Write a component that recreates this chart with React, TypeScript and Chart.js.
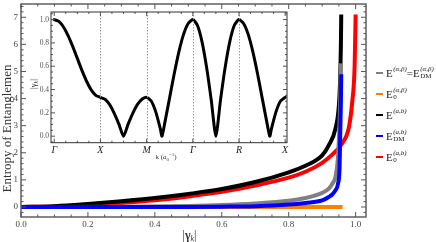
import React, { useEffect, useRef } from "react";
import { Chart, registerables } from "chart.js";

Chart.register(...registerables);

const SERIF = "'Liberation Serif', 'DejaVu Serif', serif";

// ---------- main chart data: entropy vs |gamma_k| ----------
const grayX = [0, 0.3, 0.5, 0.6, 0.7, 0.8, 0.85, 0.88, 0.9, 0.92, 0.93, 0.94, 0.947, 0.951, 0.954, 0.956];
const grayY = [0, 0.01, 0.04, 0.07, 0.13, 0.23, 0.33, 0.43, 0.52, 0.68, 0.85, 1.12, 1.8, 2.8, 4.0, 5.3];

const orangeX = [0, 0.961];
const orangeY = [0, 0];

const blackX = [0, 0.1, 0.2, 0.3, 0.4, 0.5, 0.6, 0.7, 0.8, 0.85, 0.9, 0.92, 0.94, 0.95, 0.954, 0.956, 0.957];
const blackY = [0, 0.03, 0.11, 0.21, 0.33, 0.48, 0.66, 0.92, 1.28, 1.52, 1.9, 2.28, 2.9, 3.75, 4.8, 6.0, 7.1];

const blueX = [0, 0.5, 0.6, 0.7, 0.8, 0.85, 0.9, 0.92, 0.93, 0.94, 0.947, 0.952, 0.954, 0.956, 0.957];
const blueY = [0, 0.0, 0.01, 0.03, 0.09, 0.15, 0.24, 0.37, 0.46, 0.62, 0.84, 1.46, 2.7, 3.9, 4.9];

const redX = [0, 0.1, 0.2, 0.3, 0.4, 0.5, 0.6, 0.7, 0.8, 0.85, 0.9, 0.93, 0.96, 0.98, 0.99, 0.997, 1.0];
const redY = [0, 0.02, 0.07, 0.15, 0.25, 0.39, 0.56, 0.79, 1.08, 1.3, 1.63, 1.93, 2.35, 2.95, 3.9, 5.2, 7.1];

const GRAY = "#808080";
const ORANGE = "#FF8000";
const BLACK = "#000000";
const BLUE = "#0000FF";
const RED = "#FF0000";

// ---------- inset data: |gamma_k| along the path ----------
const pathTicks = [0, 1, 2, 3, 4, 5];
const pathLabels = ["Γ", "X", "M", "Γ", "R", "X"];
const insetK = [
  0, 0.1, 0.2, 0.3, 0.4, 0.5, 0.6, 0.7, 0.8, 0.9, 1,
  1.1, 1.2, 1.3, 1.4, 1.5, 1.6, 1.7, 1.8, 1.9, 2,
  2.1, 2.2, 2.3, 2.333, 2.4, 2.5, 2.6, 2.7, 2.8, 2.9, 3,
  3.1, 3.2, 3.3, 3.4, 3.5, 3.6, 3.7, 3.8, 3.9, 4,
  4.1, 4.2, 4.3, 4.4, 4.5, 4.6, 4.667, 4.7, 4.8, 4.9, 5,
];
const insetGamma = [
  1.0, 0.984, 0.936, 0.863, 0.77, 0.667, 0.564, 0.471, 0.397, 0.35, 0.333,
  0.317, 0.27, 0.196, 0.103, 0.0, 0.103, 0.196, 0.27, 0.317, 0.333,
  0.301, 0.206, 0.059, 0.0, 0.127, 0.333, 0.539, 0.725, 0.873, 0.967, 1.0,
  0.951, 0.809, 0.588, 0.309, 0.0, 0.309, 0.588, 0.809, 0.951, 1.0,
  0.967, 0.873, 0.725, 0.539, 0.333, 0.127, 0.0, 0.059, 0.206, 0.301, 0.333,
];

const toPts = (xs: number[], ys: number[]) => xs.map((x, i) => ({ x, y: ys[i] }));

type Part = { t: string; size: number; style?: string; weight?: string; dy?: number };

function drawRich(ctx: CanvasRenderingContext2D, parts: Part[], cx: number, cy: number, rot: number, color: string) {
  ctx.save();
  ctx.translate(cx, cy);
  ctx.rotate(rot);
  ctx.fillStyle = color;
  ctx.textBaseline = "middle";
  ctx.textAlign = "left";
  const fontOf = (p: Part) => `${p.style || "normal"} ${p.weight || "normal"} ${p.size}px ${SERIF}`;
  let w = 0;
  for (const p of parts) {
    ctx.font = fontOf(p);
    w += ctx.measureText(p.t).width;
  }
  let x = -w / 2;
  for (const p of parts) {
    ctx.font = fontOf(p);
    ctx.fillText(p.t, x, p.dy || 0);
    x += ctx.measureText(p.t).width;
  }
  ctx.restore();
}

function framePlugin(cfg: {
  color: string;
  width: number;
  tickColor: string;
  xMajor: number;
  xMinor: number;
  yMajor: number;
  yMinor: number;
  majorLen: number;
  minorLen: number;
  gridX?: number[];
  titles?: (ctx: CanvasRenderingContext2D) => void;
}) {
  return {
    id: "frameTicks",
    afterDatasetsDraw(chart: any) {
      const { ctx, chartArea: a, scales } = chart;
      const xs = scales.x;
      const ys = scales.y;
      ctx.save();
      if (cfg.gridX) {
        ctx.strokeStyle = "#9a9a9a";
        ctx.lineWidth = 1;
        ctx.setLineDash([1.5, 1.5]);
        for (const v of cfg.gridX) {
          const p = Math.round(xs.getPixelForValue(v)) + 0.5;
          ctx.beginPath();
          ctx.moveTo(p, a.top);
          ctx.lineTo(p, a.bottom);
          ctx.stroke();
        }
        ctx.setLineDash([]);
      }
      ctx.strokeStyle = cfg.tickColor;
      ctx.lineWidth = 1;
      const isMajor = (v: number, step: number) => Math.abs(v / step - Math.round(v / step)) < 1e-6;
      const i0 = Math.ceil(xs.min / cfg.xMinor - 1e-9);
      const i1 = Math.floor(xs.max / cfg.xMinor + 1e-9);
      for (let i = i0; i <= i1; i++) {
        const v = i * cfg.xMinor;
        const len = isMajor(v, cfg.xMajor) ? cfg.majorLen : cfg.minorLen;
        const p = xs.getPixelForValue(v);
        ctx.beginPath();
        ctx.moveTo(p, a.bottom);
        ctx.lineTo(p, a.bottom - len);
        ctx.moveTo(p, a.top);
        ctx.lineTo(p, a.top + len);
        ctx.stroke();
      }
      const j0 = Math.ceil(ys.min / cfg.yMinor - 1e-9);
      const j1 = Math.floor(ys.max / cfg.yMinor + 1e-9);
      for (let j = j0; j <= j1; j++) {
        const v = j * cfg.yMinor;
        const len = isMajor(v, cfg.yMajor) ? cfg.majorLen : cfg.minorLen;
        const p = ys.getPixelForValue(v);
        ctx.beginPath();
        ctx.moveTo(a.left, p);
        ctx.lineTo(a.left + len, p);
        ctx.moveTo(a.right, p);
        ctx.lineTo(a.right - len, p);
        ctx.stroke();
      }
      ctx.strokeStyle = cfg.color;
      ctx.lineWidth = cfg.width;
      ctx.strokeRect(a.left, a.top, a.right - a.left, a.bottom - a.top);
      if (cfg.titles) cfg.titles(ctx);
      ctx.restore();
    },
  };
}

function Ex({ sup, sub }: { sup: string; sub?: string }) {
  return (
    <span style={{ display: "inline-flex", alignItems: "center" }}>
      <span style={{ fontSize: 11 }}>E</span>
      <span
        style={{
          display: "inline-flex",
          flexDirection: "column",
          fontSize: 7,
          lineHeight: "7px",
          marginLeft: 0.5,
        }}
      >
        <span style={{ fontStyle: "italic" }}>{sup}</span>
        <span>{sub ?? "\u00a0"}</span>
      </span>
    </span>
  );
}

const legendRows: { color: string; label: React.ReactNode }[] = [
  {
    color: GRAY,
    label: (
      <>
        <Ex sup="(α,β)" />
        <span style={{ fontSize: 11 }}>=</span>
        <Ex sup="(α,β)" sub="DM" />
      </>
    ),
  },
  { color: ORANGE, label: <Ex sup="(α,β)" sub="0" /> },
  { color: BLACK, label: <Ex sup="(a,b)" /> },
  { color: BLUE, label: <Ex sup="(a,b)" sub="DM" /> },
  { color: RED, label: <Ex sup="(a,b)" sub="0" /> },
];

export default function App() {
  const mainRef = useRef<HTMLCanvasElement>(null);
  const insetRef = useRef<HTMLCanvasElement>(null);

  useEffect(() => {
    const line = (label: string, xs: number[], ys: number[], color: string, order: number) => ({
      label,
      data: toPts(xs, ys),
      borderColor: color,
      backgroundColor: color,
      borderWidth: 4,
      pointRadius: 0,
      fill: false,
      cubicInterpolationMode: "monotone" as const,
      order,
    });

    const main = new Chart(mainRef.current!, {
      type: "line",
      data: {
        datasets: [
          line("E(α,β)=E_DM(α,β)", grayX, grayY, GRAY, 2),
          line("E_0(α,β)", orangeX, orangeY, ORANGE, 5),
          line("E(a,b)", blackX, blackY, BLACK, 3),
          line("E_DM(a,b)", blueX, blueY, BLUE, 1),
          line("E_0(a,b)", redX, redY, RED, 4),
        ],
      },
      options: {
        responsive: false,
        animation: false,
        devicePixelRatio: 1,
        layout: { padding: { left: 0, top: 4, right: 70, bottom: 0 } },
        plugins: { legend: { display: false }, tooltip: { enabled: false } },
        scales: {
          x: {
            type: "linear",
            min: 0,
            max: 1.031,
            grid: { display: false, drawTicks: false },
            border: { display: false },
            ticks: {
              stepSize: 0.2,
              includeBounds: false,
              padding: 2,
              color: "#444",
              font: { family: SERIF, size: 9 },
              maxRotation: 0,
              callback: (v: any) => Number(v).toFixed(1),
            },
            afterFit: (s: any) => {
              s.height = 25;
              s.paddingLeft = 0;
              s.paddingRight = 0;
            },
          },
          y: {
            type: "linear",
            min: -0.37,
            max: 7.49,
            grid: { display: false, drawTicks: false },
            border: { display: false },
            ticks: {
              stepSize: 1,
              includeBounds: false,
              padding: 3,
              color: "#444",
              font: { family: SERIF, size: 9 },
              callback: (v: any) => String(Math.round(Number(v))),
            },
            afterFit: (s: any) => {
              s.width = 21;
              s.paddingTop = 0;
              s.paddingBottom = 0;
            },
          },
        },
      },
      plugins: [
        framePlugin({
          color: "#555",
          width: 1.4,
          tickColor: "#555",
          xMajor: 0.2,
          xMinor: 0.05,
          yMajor: 1,
          yMinor: 0.2,
          majorLen: 5,
          minorLen: 2.5,
          titles: (ctx) => {
            drawRich(ctx, [{ t: "Entropy of Entanglemen", size: 13 }], 7.5, 128.5, -Math.PI / 2, "#333");
            drawRich(
              ctx,
              [
                { t: "|", size: 12 },
                { t: "γ", size: 12, weight: "bold" },
                { t: "k", size: 8, style: "italic", dy: 3 },
                { t: "|", size: 12 },
              ],
              189.5,
              236,
              0,
              "#333"
            );
          },
        }),
      ],
    } as any);

    const inset = new Chart(insetRef.current!, {
      type: "line",
      data: {
        datasets: [
          {
            label: "|γk|",
            data: toPts(insetK, insetGamma),
            borderColor: BLACK,
            borderWidth: 3,
            pointRadius: 0,
            fill: false,
            tension: 0.2,
            borderJoinStyle: "round",
            borderCapStyle: "round",
          },
        ],
      },
      options: {
        responsive: false,
        animation: false,
        devicePixelRatio: 1,
        layout: { padding: { left: 0, top: 6, right: 5, bottom: 0 } },
        plugins: { legend: { display: false }, tooltip: { enabled: false } },
        scales: {
          x: {
            type: "linear",
            min: -0.07,
            max: 5.04,
            grid: { display: false, drawTicks: false },
            border: { display: false },
            afterBuildTicks: (s: any) => {
              s.ticks = pathTicks.map((v) => ({ value: v }));
            },
            ticks: {
              padding: 2,
              color: "#222",
              autoSkip: false,
              maxRotation: 0,
              font: { family: SERIF, size: 10, style: "italic" },
              callback: (v: any, i: number) => pathLabels[i],
            },
            afterFit: (s: any) => {
              s.height = 23.3;
              s.paddingLeft = 0;
              s.paddingRight = 0;
            },
          },
          y: {
            type: "linear",
            min: -0.056,
            max: 1.065,
            grid: { display: false, drawTicks: false },
            border: { display: false },
            ticks: {
              stepSize: 0.2,
              includeBounds: false,
              padding: 2,
              color: "#555",
              font: { family: SERIF, size: 7.5 },
              callback: (v: any) => Number(v).toFixed(1),
            },
            afterFit: (s: any) => {
              s.width = 25;
              s.paddingTop = 0;
              s.paddingBottom = 0;
            },
          },
        },
      },
      plugins: [
        framePlugin({
          color: "#333",
          width: 1,
          tickColor: "#555",
          xMajor: 1,
          xMinor: 0.25,
          yMajor: 0.2,
          yMinor: 0.05,
          majorLen: 4,
          minorLen: 2,
          gridX: pathTicks.slice(1, -1),
          titles: (ctx) => {
            drawRich(
              ctx,
              [
                { t: "|γ", size: 8.5 },
                { t: "k", size: 6, style: "italic", dy: 2 },
                { t: "|", size: 8.5 },
              ],
              8,
              78,
              -Math.PI / 2,
              "#333"
            );
            drawRich(
              ctx,
              [
                { t: "k (", size: 7 },
                { t: "a", size: 7, style: "italic" },
                { t: "0", size: 5, dy: 2 },
                { t: "−1", size: 5, dy: -2.5 },
                { t: ")", size: 7 },
              ],
              140,
              151.5,
              0,
              "#333"
            );
          },
        }),
      ],
    } as any);

    return () => {
      main.destroy();
      inset.destroy();
    };
  }, []);

  return (
    <div
      style={{
        position: "fixed",
        left: 0,
        top: 0,
        width: 436,
        height: 242,
        background: "#fff",
        fontFamily: SERIF,
        color: "#222",
      }}
    >
      <canvas
        ref={mainRef}
        width={436}
        height={242}
        style={{ position: "absolute", left: 0, top: 0, width: 436, height: 242, display: "block" }}
      />
      <canvas
        ref={insetRef}
        width={266}
        height={160}
        style={{ position: "absolute", left: 26, top: 6, width: 266, height: 160, display: "block" }}
      />
      {legendRows.map((r, i) => (
        <div
          key={i}
          style={{
            position: "absolute",
            left: 376,
            top: 63.3 + i * 20.85,
            height: 20,
            display: "flex",
            alignItems: "center",
            whiteSpace: "nowrap",
          }}
        >
          <span style={{ width: 7, height: 1.7, background: r.color, display: "inline-block", marginRight: 3 }} />
          {r.label}
        </div>
      ))}
    </div>
  );
}
